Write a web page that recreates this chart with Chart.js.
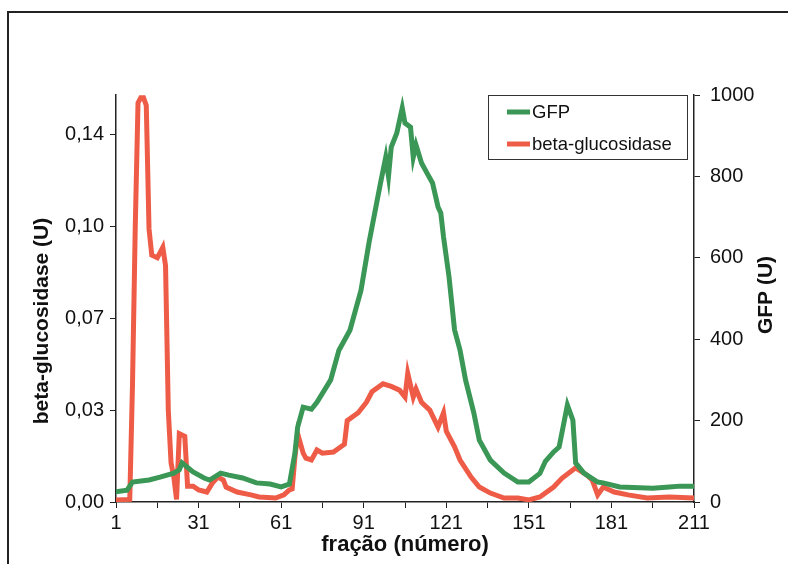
<!DOCTYPE html>
<html>
<head>
<meta charset="utf-8">
<script src="https://cdn.jsdelivr.net/npm/chart.js@4.4.1/dist/chart.umd.min.js"></script>
<style>
  html, body { margin: 0; padding: 0; background: #fff; }
  #wrap { width: 788px; height: 564px; }
</style>
</head>
<body>
<div id="wrap"><canvas id="myChart" width="788" height="564"></canvas></div>
<script>
// GFP (right axis) - fração / valor
const gfp_frac = [1, 5, 7, 13, 17, 22, 24, 25, 29, 33, 35, 39, 42, 47, 52, 57, 61, 64, 66, 67, 69, 72, 74, 79, 82, 86, 90, 93, 97, 99, 100, 101, 103, 105, 106, 108, 109, 110, 112, 114, 116, 118, 119, 120, 121, 122, 124, 126, 128, 131, 133, 137, 142, 147, 151, 155, 157, 160, 162, 165, 167, 168, 171, 176, 178, 184, 196, 202, 206, 211];
const gfp_vals = [25, 29, 49, 54, 61, 71, 79, 96, 74, 59, 54, 71, 66, 59, 47, 44, 37, 44, 120, 184, 233, 228, 245, 300, 373, 422, 520, 640, 780, 847, 800, 872, 906, 968, 931, 921, 847, 877, 833, 808, 784, 725, 710, 651, 602, 553, 423, 373, 300, 219, 152, 103, 71, 49, 49, 70, 100, 123, 135, 238, 201, 96, 71, 49, 47, 37, 34, 37, 39, 39];

// beta-glucosidase (left axis)
const beta_frac = [1, 6, 7, 8, 9, 10, 11, 12, 13, 14, 16, 17, 18, 19, 20, 21, 22, 23, 24, 26, 27, 29, 31, 34, 36, 38, 40, 41, 45, 50, 53, 59, 62, 64, 65, 66, 67, 69, 70, 72, 74, 76, 80, 84, 85, 89, 92, 94, 98, 101, 104, 106, 107, 109, 110, 112, 115, 118, 120, 121, 124, 126, 130, 133, 137, 142, 147, 151, 155, 160, 163, 168, 172, 174, 176, 178, 182, 187, 194, 202, 211];
const beta_vals = [0.0008, 0.001, 0.045, 0.105, 0.152, 0.154, 0.154, 0.151, 0.104, 0.094, 0.093, 0.095, 0.097, 0.09, 0.035, 0.015, 0.0095, 0.001, 0.026, 0.025, 0.006, 0.006, 0.0046, 0.0038, 0.0072, 0.0095, 0.0084, 0.0057, 0.0038, 0.0027, 0.0019, 0.0015, 0.0027, 0.0046, 0.005, 0.017, 0.026, 0.0186, 0.0167, 0.016, 0.0198, 0.0186, 0.019, 0.022, 0.031, 0.034, 0.038, 0.042, 0.045, 0.044, 0.0426, 0.040, 0.049, 0.040, 0.043, 0.038, 0.035, 0.0285, 0.034, 0.027, 0.021, 0.016, 0.0095, 0.0057, 0.0034, 0.0015, 0.0015, 0.0008, 0.0019, 0.0057, 0.009, 0.013, 0.0103, 0.0084, 0.0027, 0.0057, 0.0038, 0.0027, 0.0015, 0.0019, 0.0015];

const x_ticks = [1, 16, 31, 46, 61, 76, 91, 106, 121, 136, 151, 166, 181, 196, 211];
const left_ticks = [0, 0.035, 0.07, 0.105, 0.14];
const left_labels = ['0,00', '0,03', '0,07', '0,10', '0,14'];

const FONT = 'Liberation Sans, Arial, sans-serif';

function drawVTitle(c, text, x, y) {
    c.save();
    c.fillStyle = '#111';
    c.font = 'bold 21px ' + FONT;
    c.textAlign = 'center';
    c.textBaseline = 'middle';
    c.translate(x, y);
    c.rotate(-Math.PI / 2);
    c.fillText(text, 0, 0);
    c.restore();
}

// moldura, titulos verticais e legenda
const framePlugin = {
    id: 'frame',
    beforeDraw(chart) {
        const c = chart.ctx;
        c.save();
        c.fillStyle = '#fff';
        c.fillRect(0, 0, chart.width, chart.height);
        c.strokeStyle = '#222';
        c.lineWidth = 2;
        c.beginPath();
        c.moveTo(8, chart.height);
        c.lineTo(8, 12);
        c.lineTo(chart.width, 12);
        c.stroke();
        c.restore();
    },
    afterDraw(chart) {
        const c = chart.ctx;
        const a = chart.chartArea;
        drawVTitle(c, 'beta-glucosidase (U)', 42, 321);
        drawVTitle(c, 'GFP (U)', 766, 295);

        // legenda
        const lx = a.right - 206, ly = a.top, lw = 199, lh = 64;
        c.save();
        c.fillStyle = '#fff';
        c.fillRect(lx, ly, lw, lh);
        c.strokeStyle = '#333';
        c.lineWidth = 1;
        c.strokeRect(lx + 0.5, ly + 0.5, lw, lh);
        c.font = '18.5px ' + FONT;
        c.textBaseline = 'middle';
        chart.data.datasets.forEach(function(ds, i) {
            const yy = ly + 17 + i * 32;
            c.strokeStyle = ds.borderColor;
            c.lineWidth = 5;
            c.beginPath();
            c.moveTo(lx + 19, yy);
            c.lineTo(lx + 42, yy);
            c.stroke();
            c.fillStyle = '#111';
            c.fillText(ds.label, lx + 44, yy + 1);
        });
        c.restore();
    }
};

const ctx = document.getElementById('myChart').getContext('2d');
const config = {
    type: 'line',
    data: {
        datasets: [{
            label: 'GFP',
            data: gfp_frac.map(function(f, i) { return {x: f, y: gfp_vals[i]}; }),
            borderColor: '#3a9756',
            borderWidth: 5,
            pointRadius: 0,
            yAxisID: 'y2'
        }, {
            label: 'beta-glucosidase',
            data: beta_frac.map(function(f, i) { return {x: f, y: beta_vals[i]}; }),
            borderColor: '#ee5c47',
            borderWidth: 5,
            pointRadius: 0,
            yAxisID: 'y'
        }]
    },
    options: {
        responsive: false,
        animation: false,
        layout: { padding: { top: 95, left: 0, right: 0, bottom: 0 } },
        plugins: { legend: { display: false }, tooltip: { enabled: false } },
        scales: {
            x: {
                type: 'linear',
                min: 1,
                max: 211,
                afterBuildTicks: function(s) { s.ticks = x_ticks.map(function(v) { return {value: v}; }); },
                afterFit: function(s) { s.height = 62; },
                ticks: {
                    autoSkip: false,
                    maxRotation: 0,
                    padding: 3,
                    color: '#111',
                    font: { family: FONT, size: 20 },
                    callback: function(v) { return (v - 1) % 30 === 0 ? String(v) : ''; }
                },
                grid: { drawOnChartArea: false, tickLength: 6, color: '#222' },
                border: { color: '#222', width: 1.5 },
                title: {
                    display: true,
                    text: 'fração (número)',
                    color: '#111',
                    font: { family: FONT, size: 22, weight: 'bold' },
                    padding: { top: 0, bottom: 6 }
                }
            },
            y: {
                position: 'left',
                min: 0,
                max: 0.155,
                afterBuildTicks: function(s) { s.ticks = left_ticks.map(function(v) { return {value: v}; }); },
                afterFit: function(s) { s.width = 116; },
                ticks: {
                    padding: 6,
                    color: '#111',
                    font: { family: FONT, size: 20 },
                    callback: function(v, i) { return left_labels[i]; }
                },
                grid: { drawOnChartArea: false, tickLength: 6, color: '#222' },
                border: { color: '#222', width: 1.5 }
            },
            y2: {
                position: 'right',
                min: 0,
                max: 1000,
                ticks: {
                    stepSize: 200,
                    padding: 10,
                    color: '#111',
                    font: { family: FONT, size: 20 },
                    callback: function(v) { return String(v); }
                },
                afterFit: function(s) { s.width = 94; },
                grid: { drawOnChartArea: false, tickLength: 6, color: '#222' },
                border: { color: '#222', width: 1.5 }
            }
        }
    },
    plugins: [framePlugin]
};
const myChart = new Chart(ctx, config);
</script>
</body>
</html>
